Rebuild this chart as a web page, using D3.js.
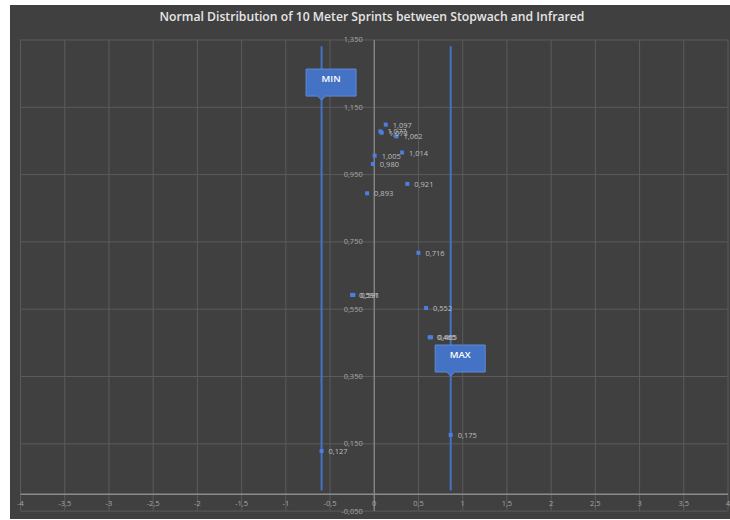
<!DOCTYPE html>
<html>
<head>
<meta charset="utf-8">
<script src="https://cdn.jsdelivr.net/npm/d3@7"></script>
<style>
  html, body { margin: 0; padding: 0; background: #ffffff; }
  svg { display: block; }
</style>
</head>
<body>
<svg id="chart" width="730" height="520"></svg>
<script>
// Sprint timing differences plotted as a normal distribution
const chartTitle = "Normal Distribution of 10 Meter Sprints between Stopwach and Infrared";

// z position (x) and density value (y) of each sprint
const pointX = [0.136, 0.075, 0.090, 0.257, 0.320, 0.010, -0.010, 0.380, -0.075, 0.505, -0.245, -0.230, 0.592, 0.632, 0.648, 0.870, -0.590];
const pointY = [1.097, 1.077, 1.073, 1.062, 1.014, 1.005, 0.980, 0.921, 0.893, 0.716, 0.591, 0.591, 0.552, 0.465, 0.465, 0.175, 0.127];

// Reference lines for the extremes
const markerNames = ["MIN", "MAX"];
const markerX = [-0.590, 0.870];
const markerLineY = [0.01, 1.33];
const markerCalloutY = [1.17, 0.35];

// Axis ticks
const xTicks = [-4, -3.5, -3, -2.5, -2, -1.5, -1, -0.5, 0, 0.5, 1, 1.5, 2, 2.5, 3, 3.5, 4];
const yTicks = [-0.05, 0.15, 0.35, 0.55, 0.75, 0.95, 1.15, 1.35];

const locale = d3.formatLocale({ decimal: ",", thousands: ".", grouping: [3], currency: ["", ""], minus: "-" });
const fmtX = locale.format(".2~f");
const fmtY = locale.format(".3f");

const svg = d3.select("#chart");
const W = 730;

// Dark chart background
svg.append("rect").attr("x", 10).attr("y", 5).attr("width", W - 10).attr("height", 514)
  .attr("fill", "#404040");

const x = d3.scaleLinear().domain([-4, 4]).range([20, 727.5]);
const y = d3.scaleLinear().domain([-0.05, 1.35]).range([510.6, 39.5]);

// Title
svg.append("text").attr("x", 372).attr("y", 21).attr("text-anchor", "middle")
  .attr("fill", "#e6e6e6").attr("font-family", "Open Sans").attr("font-size", 12.2)
  .attr("font-weight", 600).text(chartTitle);

// Vertical gridlines
svg.append("g").attr("transform", `translate(0,${y(-0.05)})`)
  .call(d3.axisBottom(x).tickValues(xTicks).tickSize(-(y(-0.05) - y(1.35))).tickFormat(""))
  .call(g => g.select(".domain").remove())
  .call(g => g.selectAll("line").attr("stroke", "#5b5b5b").attr("stroke-width", 1));

// Horizontal gridlines
svg.append("g").attr("transform", `translate(${x(-4)},0)`)
  .call(d3.axisLeft(y).tickValues(yTicks).tickSize(-(x(4) - x(-4))).tickFormat(""))
  .call(g => g.select(".domain").remove())
  .call(g => g.selectAll("line").attr("stroke", "#5b5b5b").attr("stroke-width", 1));

// Vertical axis through x = 0
svg.append("g").attr("transform", `translate(${x(0)},0)`)
  .call(d3.axisLeft(y).tickValues(yTicks).tickSize(0).tickPadding(11).tickFormat(fmtY))
  .call(g => g.select(".domain").attr("stroke", "#8c8c8c").attr("stroke-width", 1.2))
  .call(g => g.selectAll("text").attr("fill", "#a6a6a6").attr("font-family", "Open Sans").attr("font-size", 7.5));

// Horizontal axis at y = 0
svg.append("g").attr("transform", `translate(0,${y(0)})`)
  .call(d3.axisBottom(x).tickValues(xTicks).tickSize(0).tickPadding(7).tickFormat(fmtX))
  .call(g => g.select(".domain").attr("stroke", "#8c8c8c").attr("stroke-width", 1.5))
  .call(g => g.selectAll("text").attr("fill", "#a6a6a6").attr("font-family", "Open Sans").attr("font-size", 7.5));

// MIN / MAX lines
markerX.forEach(mx => {
  svg.append("line")
    .attr("x1", x(mx)).attr("x2", x(mx))
    .attr("y1", y(markerLineY[0])).attr("y2", y(markerLineY[1]))
    .attr("stroke", "#4472c4").attr("stroke-width", 2);
});

// Data points and their value labels
const pts = pointX.map((px, i) => ({ x: px, y: pointY[i] }));
svg.append("g").selectAll("rect").data(pts).join("rect")
  .attr("x", d => x(d.x) - 2).attr("y", d => y(d.y) - 2)
  .attr("width", 4).attr("height", 4)
  .attr("fill", "#4a7fe0");

svg.append("g").selectAll("text").data(pts).join("text")
  .attr("x", d => x(d.x) + 7).attr("y", d => y(d.y) + 3)
  .attr("fill", "#bfbfbf").attr("font-family", "Open Sans").attr("font-size", 7.5)
  .text(d => fmtY(d.y));

// Callouts
markerNames.forEach((name, i) => {
  const tipX = x(markerX[i]);
  const tipY = y(markerCalloutY[i]);
  const boxW = 50, boxH = 27;
  const left = tipX - 15.5;
  const top = tipY - 4 - boxH;
  const path = d3.path();
  path.moveTo(left, top);
  path.lineTo(left + boxW, top);
  path.lineTo(left + boxW, top + boxH);
  path.lineTo(tipX + 4, top + boxH);
  path.lineTo(tipX, tipY);
  path.lineTo(tipX - 4, top + boxH);
  path.lineTo(left, top + boxH);
  path.closePath();
  svg.append("path").attr("d", path.toString())
    .attr("fill", "#4472c4").attr("stroke", "#5f8ad6").attr("stroke-width", 1);
  svg.append("text").attr("x", left + boxW / 2).attr("y", top + 12.5)
    .attr("text-anchor", "middle").attr("fill", "#ffffff")
    .attr("font-family", "Open Sans").attr("font-size", 9.5).attr("font-weight", 600)
    .text(name);
});
</script>
</body>
</html>
